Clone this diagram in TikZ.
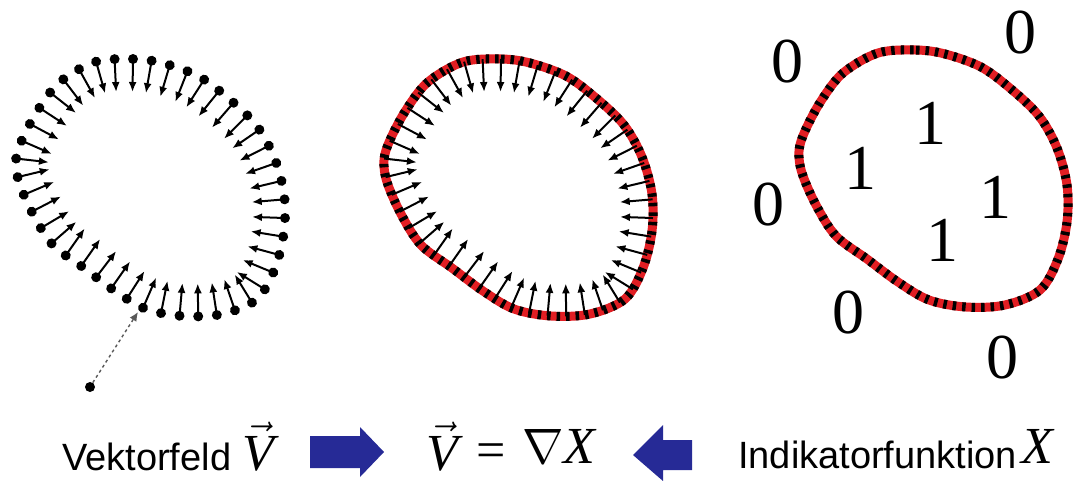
\documentclass[tikz,border=0pt]{standalone}
\usepackage{fontspec}
\setmainfont{Liberation Serif}
\newfontfamily\arialf{Liberation Sans}
\usetikzlibrary{decorations.markings,arrows.meta}
\definecolor{arrowblue}{RGB}{38,42,150}
\definecolor{curvered}{RGB}{225,30,35}
\newcommand\bigmath[1]{\scalebox{2}{\fontsize{26}{30}\selectfont #1}}
\tikzset{
  vec/.style={line width=2pt,-{Latex[length=10pt,width=8pt]}},
  dotnode/.style={circle,fill=black,inner sep=0pt,minimum size=10pt},
  digit/.style={inner sep=0pt,font=\fontsize{64}{70}\selectfont},
  sanslabel/.style={inner sep=0pt,anchor=base west,font=\arialf\fontsize{38}{44}\selectfont},
  mathlabel/.style={inner sep=0pt,anchor=base west},
  blob/.style={insert path={plot[smooth cycle,tension=0.55] coordinates {
    (95,62) (133,59) (162,63) (198,76) (228,98) (256,125) (274,157) (284,194)
    (284,231) (275,268) (257,299) (222,314) (183,316) (146,309) (115,291)
    (84,268) (53,245) (33,214) (19,182) (16,160) (22,140) (38,110) (60,82)}}},
  dotsarrows/.style={postaction={decorate,decoration={markings,
    mark=between positions 0 and 0.99 step 0.02273 with {
      \fill (0,0) circle (5pt);
      \draw[vec] (0,0) -- (0pt,-33pt);}}}},
  onlyarrows/.style={postaction={decorate,decoration={markings,
    mark=between positions 0 and 0.99 step 0.02273 with {
      \draw[vec] (0,0) -- (0pt,-33pt);}}}},
  redcurve/.style={draw=curvered,line width=9pt},
  blackdash/.style={draw=black,line width=9pt,dash pattern=on 3.5pt off 6pt},
  bigarrow/.style={fill=arrowblue,draw=none}
}
\begin{document}
\begin{tikzpicture}[x=1pt,y=-1pt]
\useasboundingbox (0,0) rectangle (1074,480);
% left: vector field samples
\path[blob,dotsarrows];
\node[dotnode] (far) at (90,387) {};
\coordinate (tip) at (138,312);
\draw[gray!70!black,line width=1.4pt,dashed,-{Latex[length=9pt,width=8pt]}] (far) -- (tip);
% middle
\begin{scope}[shift={(368,0)}]
  \path[blob,redcurve];
  \path[blob,blackdash];
  \path[blob,onlyarrows];
\end{scope}
% right
\begin{scope}[shift={(783,-9)}]
  \path[blob,redcurve];
  \path[blob,blackdash];
\end{scope}
\node[digit] (z1) at (787,62) {0};
\node[digit] (z2) at (1020,33) {0};
\node[digit] (z3) at (768,205) {0};
\node[digit] (z4) at (848,313) {0};
\node[digit] (z5) at (1002,358) {0};
\node[digit] (o1) at (930,123) {1};
\node[digit] (o2) at (860,168) {1};
\node[digit] (o3) at (995,197) {1};
\node[digit] (o4) at (942,240) {1};
% bottom row
\node[sanslabel] (vf) at (62,470) {Vektorfeld};
\node[mathlabel] (v1) at (242,470) {\bigmath{$\vec{\textit{V}}$}};
\node[mathlabel] (v2) at (426,470) {\bigmath{$\vec{\textit{V}}$}};
\node[inner sep=0pt,font=\fontsize{52}{60}\selectfont] (eqsign) at (491,456) {=};
\node[mathlabel] (nab) at (522,463) {\bigmath{$\nabla$\textit{X}}};
\node[sanslabel] (ind) at (738,468) {Indikatorfunktion};
\node[mathlabel] (x1) at (1021,463) {\bigmath{\textit{X}}};
\fill[bigarrow] (310,436) -- (360,436) -- (360,427) -- (384,452) -- (360,477) -- (360,468) -- (310,468) -- cycle;
\fill[bigarrow] (692,440) -- (663,440) -- (663,425) -- (633,455) -- (663,481) -- (663,470) -- (692,470) -- cycle;
\end{tikzpicture}
\end{document}
